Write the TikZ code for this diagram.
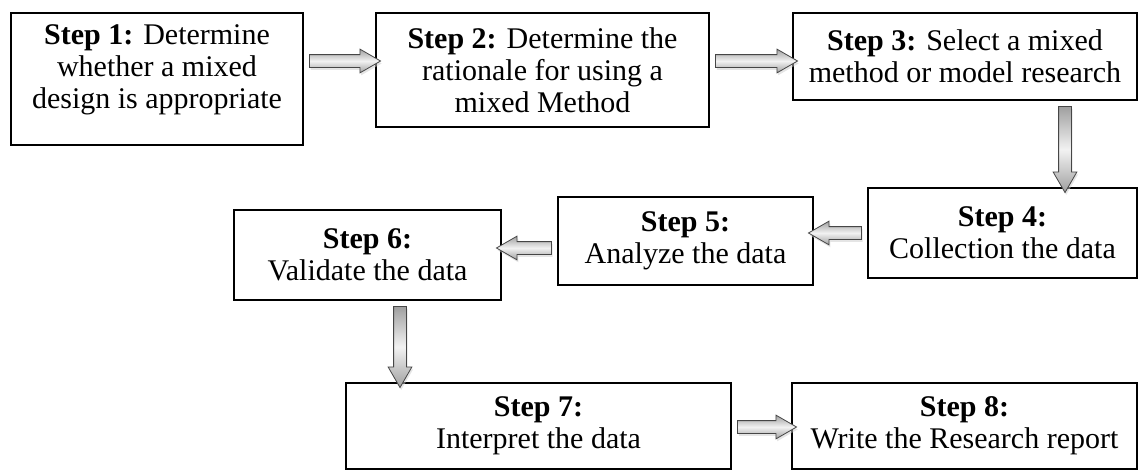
\documentclass[tikz,border=0pt]{standalone}
\usepackage{fontspec}
\setmainfont{Liberation Serif}
\usetikzlibrary{shapes.arrows,calc,shadows}

\begin{document}
\begin{tikzpicture}[x=0.5pt, y=-0.5pt,
  main/.style = {draw, line width=1pt, align=center, inner sep=0pt, font=\fontsize{15pt}{16pt}\selectfont},
  fat/.style = {single arrow, draw=gray!55!black, line width=0.4pt, inner sep=0pt, inner ysep=3pt, single arrow head extend=2.75pt, single arrow tip angle=60, top color=gray!75, bottom color=gray!75, middle color=gray!10, drop shadow={shadow xshift=0.6pt, shadow yshift=-1.2pt, fill=gray!40}},
  flow/.style = {to path={let \p1=(\tikztostart), \p2=(\tikztotarget), \n1={veclen(\x2-\x1,\y2-\y1)}, \n2={atan2(\y2-\y1,\x2-\x1)} in node[fat, minimum height=\n1, rotate=\n2] at ($(\tikztostart)!0.5!(\tikztotarget)$) {}}}]
\useasboundingbox (0,0) rectangle (1146,471);
\node[main, minimum width=146pt, minimum height=66pt, text depth=12pt] (1) at (157,79) {\textbf{Step 1:} Determine\\whether a mixed\\design is appropriate};
\node[main, minimum width=166.5pt, minimum height=57pt] (2) at (542.5,70) {\textbf{Step 2:} Determine the\\rationale for using a\\mixed Method};
\node[main, minimum width=172pt, minimum height=43.5pt] (3) at (965,56.5) {\textbf{Step 3:} Select a mixed\\method or model research};
\node[main, minimum width=134.5pt, minimum height=45pt] (4) at (1002.5,233) {\textbf{Step 4:}\\Collection the data};
\node[main, minimum width=127.5pt, minimum height=44pt] (5) at (685.5,241) {\textbf{Step 5:}\\Analyze the data};
\node[main, minimum width=133.5pt, minimum height=45pt] (6) at (367.5,255) {\textbf{Step 6:}\\Validate the data};
\node[main, minimum width=192.5pt, minimum height=43pt] (7) at (538.5,426) {\textbf{Step 7:}\\Interpret the data};
\node[main, minimum width=172.5pt, minimum height=43pt] (8) at (964.5,426) {\textbf{Step 8:}\\Write the Research report};
\draw[flow] (1.east |- 0,61) to (2.west |- 0,61);
\draw[flow] (2.east |- 0,61) to (3.west |- 0,61);
\draw[flow] (3.south -| 1065,0) to (4.north -| 1065,0);
\draw[flow] (4.west |- 0,233) to (5.east |- 0,233);
\draw[flow] (5.west |- 0,248) to (6.east |- 0,248);
\draw[flow] (6.south -| 400,0) to (7.north -| 400,0);
\draw[flow] (7.east |- 0,427) to (8.west |- 0,427);
\end{tikzpicture}
\end{document}
